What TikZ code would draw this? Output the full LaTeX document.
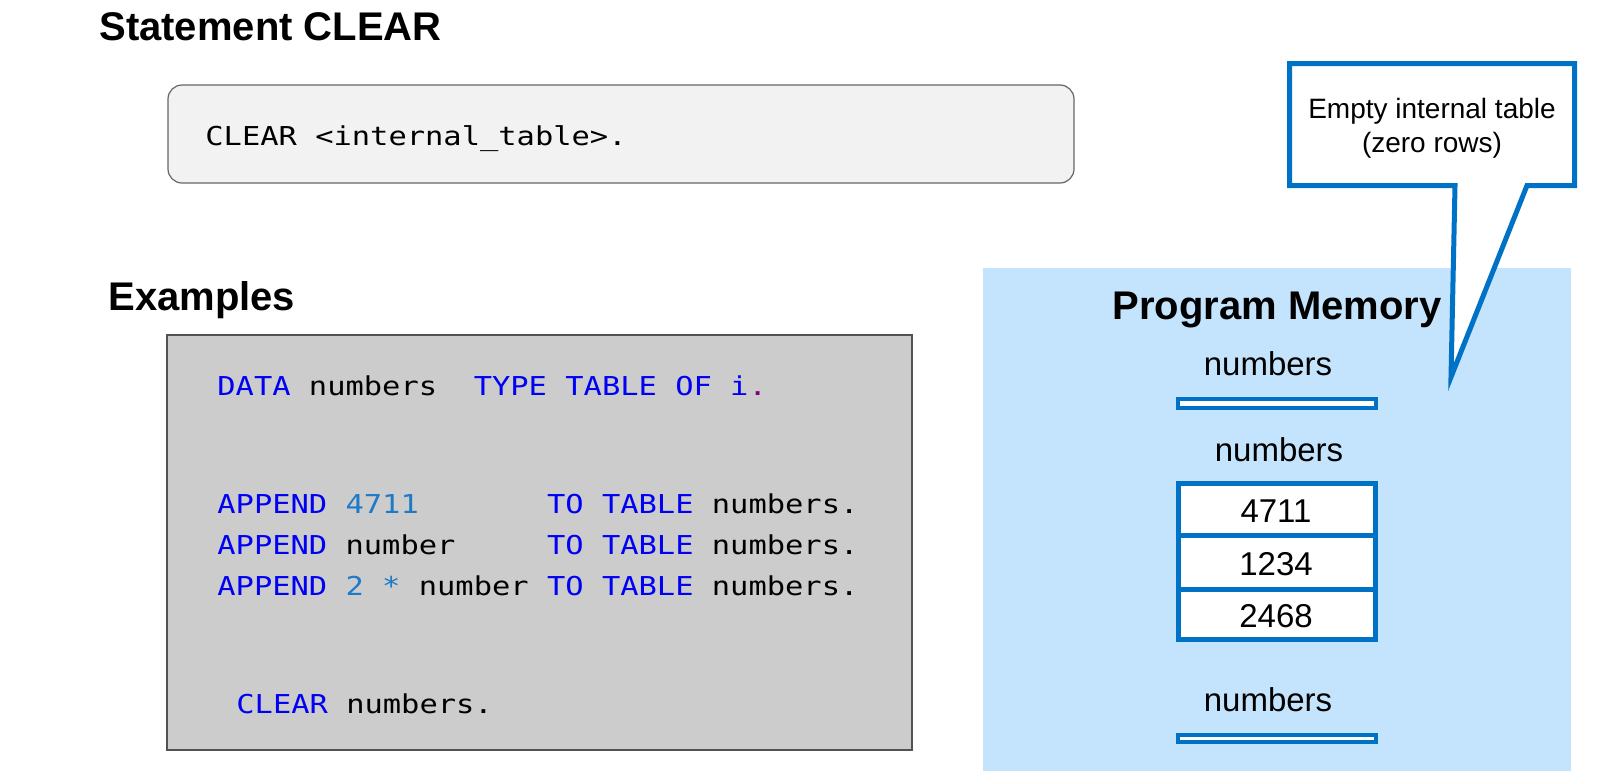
\documentclass[tikz,border=0pt]{standalone}
\usepackage{fontspec}
\setmainfont{Liberation Sans}
\newfontfamily\codefont[FakeStretch=1.17]{DejaVu Sans Mono}
\definecolor{kwblue}{RGB}{0,0,245}
\definecolor{numblue}{RGB}{28,122,200}
\definecolor{dotpurple}{RGB}{128,0,128}
\definecolor{memblue}{RGB}{0,114,198}
\definecolor{panelblue}{RGB}{196,228,253}
\definecolor{codegray}{RGB}{204,204,204}
\definecolor{syntaxgray}{RGB}{242,242,242}
\newcommand\kw[1]{\textcolor{kwblue}{#1}}
\newcommand\nm[1]{\textcolor{numblue}{#1}}
\newcommand\SP{\hphantom{x}}
\begin{document}
\begin{tikzpicture}[x=0.5pt,y=-0.5pt,
  heading/.style={font=\fontsize{20}{24}\selectfont\bfseries, inner sep=0pt, anchor=base west},
  codeline/.style={font=\codefont\fontsize{13}{16}\selectfont, inner sep=0pt, anchor=base west},
  memlabel/.style={font=\fontsize{16.5}{20}\selectfont, inner sep=0pt, anchor=base},
  memline/.style={draw=memblue, line width=2.5pt},
  emptyline/.style={draw=memblue, line width=2pt, fill=white},
  callouttext/.style={font=\fontsize{14}{17}\selectfont, inner sep=0pt, anchor=base}]
\useasboundingbox (0,0) rectangle (1600,782);

% headings
\node[heading] (h1) at (99,40) {Statement CLEAR};
\node[heading] (h2) at (108,310) {Examples};

% syntax box
\draw[fill=syntaxgray, draw=black!60, line width=0.6pt, rounded corners=7pt] (168,85) rectangle (1074,183);
\node[codeline] (syn) at (205,145) {CLEAR <internal\_table>.};

% examples code box
\draw[fill=codegray, draw=black!68, line width=0.85pt] (167,335) rectangle (912,750);
\node[codeline] (c1) at (217,395) {\kw{DATA}\SP numbers\SP\SP\kw{TYPE}\SP\kw{TABLE}\SP\kw{OF}\SP\kw{i}\textcolor{dotpurple}{.}};
\node[codeline] (c2) at (217,513) {\kw{APPEND}\SP\nm{4711}\SP\SP\SP\SP\SP\SP\SP\kw{TO}\SP\kw{TABLE}\SP numbers.};
\node[codeline] (c3) at (217,554) {\kw{APPEND}\SP number\SP\SP\SP\SP\SP\kw{TO}\SP\kw{TABLE}\SP numbers.};
\node[codeline] (c4) at (217,595) {\kw{APPEND}\SP\nm{2}\SP\nm{*}\SP number\SP\kw{TO}\SP\kw{TABLE}\SP numbers.};
\node[codeline] (c5) at (236,713) {\kw{CLEAR}\SP numbers.};

% program memory panel
\fill[panelblue] (983,268) rectangle (1571,771);
\node[font=\fontsize{20}{24}\selectfont\bfseries, inner sep=0pt, anchor=base] (pm) at (1277,319) {Program Memory};

% first empty table
\node[memlabel] (l1) at (1268,375) {numbers};
\draw[emptyline] (1178,399) rectangle (1376,408);

% filled table
\node[memlabel] (l2) at (1279,461) {numbers};
\draw[memline, fill=white] (1178.5,483) rectangle (1375.5,639);
\draw[memline] (1178.5,535.5) -- (1375.5,535.5);
\draw[memline] (1178.5,589) -- (1375.5,589);
\node[memlabel] (r1) at (1276,522) {4711};
\node[memlabel] (r2) at (1276,575) {1234};
\node[memlabel] (r3) at (1276,627) {2468};

% last empty table
\node[memlabel] (l3) at (1268,711) {numbers};
\draw[emptyline] (1178,735) rectangle (1376,742);

% callout
\draw[draw=memblue, line width=2.5pt, fill=white, line join=miter]
  (1289.5,63.5) -- (1574.5,63.5) -- (1574.5,185.5) -- (1527,185.5) -- (1451,377)
  -- (1455,185.5) -- (1289.5,185.5) -- cycle;
\node[callouttext] (t1) at (1432,118) {Empty internal table};
\node[callouttext] (t2) at (1432,152) {(zero rows)};
\end{tikzpicture}
\end{document}
